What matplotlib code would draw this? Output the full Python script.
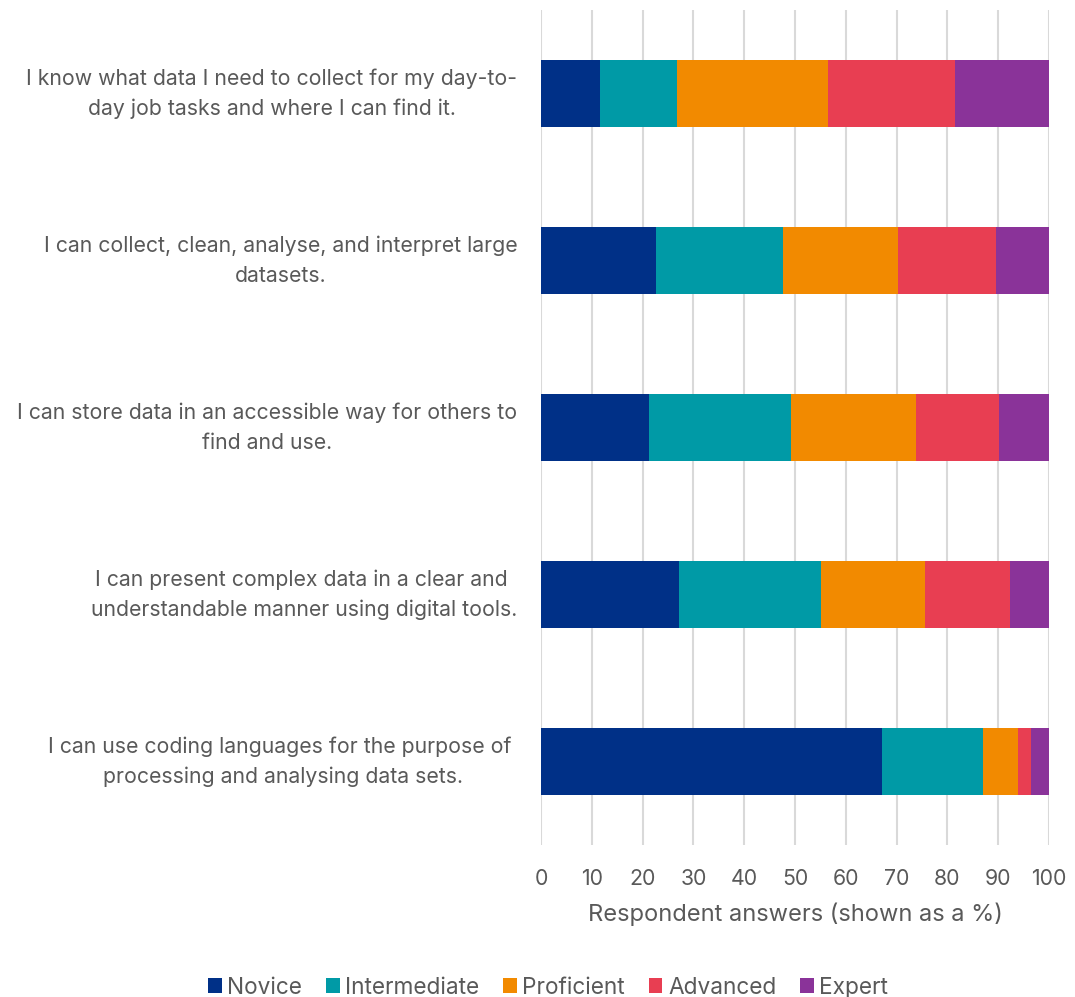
import numpy as np
import matplotlib
matplotlib.use("Agg")
import matplotlib.pyplot as plt

# Survey statements (top to bottom) and share of answers per skill level, in %
statements = [
    "I know what data I need to collect for my day-to-\nday job tasks and where I can find it.",
    "I can collect, clean, analyse, and interpret large\ndatasets.",
    "I can store data in an accessible way for others to\nfind and use.",
    "I can present complex data in a clear and \nunderstandable manner using digital tools.",
    "I can use coding languages for the purpose of \nprocessing and analysing data sets.",
]
levels = ["Novice", "Intermediate", "Proficient", "Advanced", "Expert"]

novice = [11.7, 22.7, 21.2, 27.1, 67.1]
intermediate = [15.0, 24.9, 28.0, 28.1, 19.9]
proficient = [29.7, 22.6, 24.6, 20.4, 6.8]
advanced = [25.1, 19.3, 16.4, 16.7, 2.7]
expert = [18.5, 10.5, 9.8, 7.7, 3.5]

colors = ["#003087", "#009AA6", "#F28A00", "#E83E52", "#8A3399"]
text_grey = "#595959"

plt.rcParams["font.family"] = ["Inter", "DejaVu Sans"]

fig = plt.figure(figsize=(10.75, 9.97), dpi=100)
ax = fig.add_axes([541 / 1075, 1 - 845 / 997, (1049 - 541) / 1075, (845 - 10) / 997])

y = np.arange(len(statements))
left = np.zeros(len(statements))
for name, vals, col in zip(levels, [novice, intermediate, proficient, advanced, expert], colors):
    ax.barh(y, vals, left=left, height=0.4, color=col, label=name, zorder=3)
    left += np.array(vals)

ax.set_ylim(len(statements) - 0.5, -0.5)
ax.set_xlim(0, 100)
ax.set_xticks(np.arange(0, 101, 10))
ax.set_yticks(y)
ax.set_yticklabels(statements, multialignment="center", linespacing=1.6, va="center")
ax.grid(axis="x", color="#D9D9D9", linewidth=1.5, zorder=0)
for s in ax.spines.values():
    s.set_visible(False)
ax.tick_params(axis="both", length=0, labelsize=15.3, labelcolor=text_grey)
ax.tick_params(axis="y", pad=17)
ax.tick_params(axis="x", pad=17)
ax.set_xlabel("Respondent answers (shown as a %)", fontsize=17, color=text_grey, labelpad=10)

fig.legend(loc="lower center", ncol=5, frameon=False, fontsize=16.3,
           bbox_to_anchor=(0.51, -0.022), handlelength=0.6, handleheight=0.6,
           handletextpad=0.25, columnspacing=1.05, labelcolor=text_grey)

fig.savefig("out.png", dpi=100)
